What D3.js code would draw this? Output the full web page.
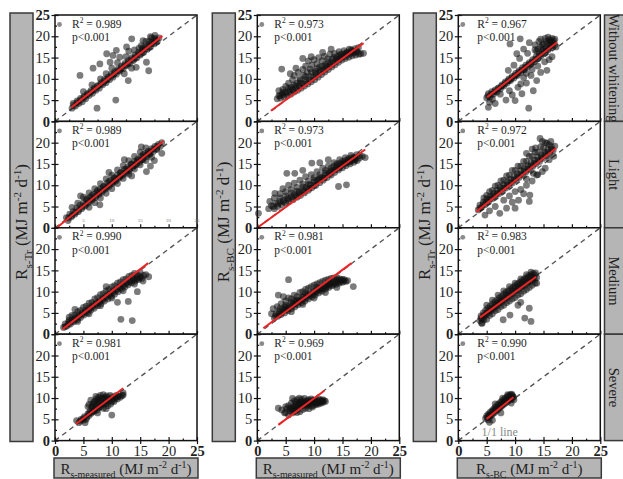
<!DOCTYPE html>
<html lang="en">
  <head>
    <meta charset="utf-8"/>
    <script src="https://d3js.org/d3.v7.min.js"></script>
    <style>
      body { margin: 0; background: #fff; }
      .chart text { font-family: "Liberation Serif", "DejaVu Serif", serif; fill: #1e1e1e; }
      .chart .tick line { stroke: #111; stroke-width: 1.2; }
    </style>
  </head>
  <body>
    <svg class="chart" width="623" height="479"></svg>
  <script>
    // labels
    const rowNames = ["Without whitening", "Light", "Medium", "Severe"];
    const yTitleSubs = ["s-Tr", "s-BC", "s-Tr"];
    const xTitleSubs = ["s-measured", "s-measured", "s-BC"];
    const r2Values = [
      ["0.989", "0.973", "0.967"],
      ["0.989", "0.973", "0.972"],
      ["0.990", "0.981", "0.983"],
      ["0.981", "0.969", "0.990"]
    ];
    const pLabel = "p<0.001";
    const ticks = [0, 5, 10, 15, 20, 25];
    const minorTicks = [2.5, 7.5, 12.5, 17.5, 22.5];

    // fitted lines [x1, y1, x2, y2]
    const fitLines = [
      [[2.9, 3.3, 18.9, 20.1], [2.4, 2.5, 18.7, 18.4], [5.1, 5.7, 17.4, 18.6]],
      [[0.3, 0, 19.1, 20.4], [0, 0, 19, 18.4], [3.2, 3.8, 17.2, 18.7]],
      [[1.35, 1.2, 16.4, 16.7], [1.06, 1.4, 16.6, 16.7], [3.8, 3.9, 13.7, 13.5]],
      [[3.7, 3.9, 12, 12.3], [3.7, 3.7, 11.8, 11.7], [5, 5.1, 9.7, 10.2]]
    ];

    // scatter points
    const wwMeasTr = [[3,3.1],[3.2,4.2],[3.6,3.6],[3.9,4.8],[4.2,4.2],[4.5,5.4],[4.8,4.6],[5.1,5.9],[5.4,5.3],[5.7,6.5],[6,6.1],[6.3,7.2],[6.6,6.6],[6.9,7.9],[7.2,7.3],[7.5,8.4],[7.8,7.8],[8.1,9.1],[8.4,8.6],[8.7,9.8],[9,9.1],[9.3,10.4],[9.6,9.8],[9.9,11.1],[10.2,10.4],[10.5,11.7],[10.8,11.1],[11.1,12.3],[11.4,11.8],[11.7,13],[12,12.4],[12.3,13.6],[12.6,13.1],[12.9,14.3],[13.2,13.6],[13.5,14.9],[13.8,14.3],[14.1,15.6],[14.4,14.9],[14.7,16.2],[15,15.6],[15.3,16.8],[15.6,16.2],[15.9,17.5],[16.2,16.9],[16.5,18.1],[16.8,17.5],[17.1,18.6],[17.4,18.2],[17.7,19.2],[18,18.8],[18.3,19.6],[16,18.8],[17,19.6],[15.2,17.8],[14.8,17.2],[12.2,11.2],[13.5,12.5],[10,12.5],[11,13.8],[12.5,15.2],[14,16.8],[9,11.2],[8,10],[6.5,8.6],[5,7],[4.4,10.8],[7.4,3.1],[10.7,5],[6.7,12.5],[9.1,15.9],[10.8,16.7],[12.6,17.5],[13.5,19.4],[15.5,19],[17.6,20.2],[16.5,11.9],[16.1,13.9],[14.3,12.7],[12.9,9.6],[11.4,15.1],[10.2,15.5],[7.9,13.5],[9.7,13.9],[13,16.5],[16.8,19.9],[3.3,3.8],[3.9,4.4],[4.5,5],[5.1,5.6],[5.7,6.3],[6.3,6.9],[6.9,7.5],[7.5,8.2],[8.1,8.8],[8.7,9.4],[9.3,10],[9.9,10.7],[10.5,11.3],[11.1,11.9],[11.7,12.6],[12.3,13.2],[12.9,13.8],[13.5,14.5],[14.1,15.1],[14.7,15.7],[15.3,16.4],[15.9,17],[16.5,17.6],[17.1,18.3],[17.7,18.9],[15.5,17.3],[16.6,18.8],[17.5,19.5]];
    const wwMeasBc = [[3.5,5.3],[3.8,6],[4.1,5.5],[4.4,6.3],[4.7,5.8],[5,6.6],[5.3,6],[5.6,7],[5.9,6.4],[6.2,7.4],[6.5,6.9],[6.8,7.8],[7.1,7.3],[7.4,8.3],[7.7,7.8],[8,8.8],[8.3,8.3],[8.6,9.3],[8.9,8.8],[9.2,9.8],[9.5,9.3],[9.8,10.4],[10.1,9.8],[10.4,10.9],[10.7,10.4],[11,11.5],[11.3,11],[11.6,12],[11.9,11.6],[12.2,12.6],[12.5,12.2],[12.8,13.2],[13.1,12.8],[13.4,13.7],[13.7,13.3],[14,14.3],[14.3,13.9],[14.6,14.8],[14.9,14.4],[15.2,15.2],[15.5,14.8],[15.8,15.6],[16.1,15.1],[16.4,15.9],[16.7,15.4],[17,16.1],[17.3,15.6],[17.6,16.3],[17.9,15.8],[18.2,15.9],[4.5,7.5],[5,8.2],[5.5,9],[6,8],[6.2,9.8],[6.5,10.8],[7,9],[7.2,11.5],[7.5,10],[8,12.2],[8.2,10.8],[8.5,13],[8.8,11.5],[9,14.2],[9.3,12.3],[9.6,13.2],[10,14.5],[10.2,11.8],[10.5,13.5],[10.8,15],[11,12.8],[11.4,14.2],[11.8,15.3],[12,13.4],[12.4,14.7],[12.8,15.8],[13.2,14.6],[13.6,16],[14,15.2],[14.4,16.4],[14.8,15.8],[15.3,16.6],[15.8,16.3],[16.2,17],[16.7,16.6],[17.2,17.1],[5.8,11.2],[4.3,12.3],[6.8,12.5],[9.5,15.2],[11.5,16.2],[13,17],[8,14.8],[3.8,7.2],[18.7,16],[17.8,17.3],[4,6.1],[4.9,6.9],[5.8,7.5],[6.7,8.3],[7.6,9],[8.5,9.8],[9.4,10.6],[10.3,11.4],[11.2,12.1],[12.1,13],[13,13.8],[13.9,14.7],[14.8,15.3],[15.7,16],[16.6,16.3],[17.5,16.6],[13.5,15],[14.5,15.6],[15.5,16],[16.5,16.8],[12.5,14],[11.5,13],[10.5,12.4],[9.5,11.6],[8.5,10.6],[7.5,9.6],[6.5,8.6],[5.5,7.8],[4.5,6.8]];
    const wwBcTr = [[5,5.5],[5.3,6.5],[5.6,5.8],[5.9,7],[6.2,6.4],[6.5,7.4],[6.8,6.9],[7.1,7.9],[7.4,7.6],[7.7,8.6],[8,8.3],[8.3,9.3],[8.6,9],[8.9,10],[9.2,9.6],[9.5,10.6],[9.8,10.2],[10.1,11.3],[10.4,10.8],[10.7,11.9],[11,11.5],[11.3,12.6],[11.6,12.1],[11.9,13.2],[12.2,12.8],[12.5,13.8],[12.8,13.4],[13.1,14.5],[13.4,14],[13.7,15.2],[14,14.7],[14.3,15.9],[14.6,15.4],[14.9,16.6],[15.2,16.1],[15.5,17.3],[15.8,16.8],[16.1,17.9],[16.4,17.4],[16.7,18.5],[17,18],[14.5,17.5],[15,18.2],[15.5,18.8],[16,19.2],[16.5,19.5],[17,19.3],[14,17],[13.5,18],[14.2,18.8],[15.3,19.5],[16.3,18.6],[17.2,17.5],[5.5,4.5],[6,5.2],[13,12.2],[12,11.3],[12.4,3.1],[10,4.9],[8.4,5],[7.4,6.4],[13.2,7.2],[13.8,9.6],[15.6,12],[10.9,19.4],[9.1,18.2],[10.3,15.9],[9,7.2],[10.5,8],[11.2,6.5],[12,9],[11.5,10.3],[12.8,10.8],[14.5,11.5],[14,13],[15.2,14],[16.5,15.2],[10.8,14.8],[11.5,17],[12.2,16],[9.8,13.2],[8.8,12],[6.5,4.2],[5.3,3.3],[11,8.8],[9.5,6.2],[13.5,16.8],[12.5,18.5],[16,14.5],[5.2,6],[5.8,6.4],[6.4,7],[7,7.7],[7.6,8.3],[8.2,8.9],[8.8,9.6],[9.4,10.2],[10,10.8],[10.6,11.5],[11.2,12.1],[11.8,12.7],[12.4,13.4],[13,14],[13.6,14.6],[14.2,15.3],[14.8,15.9],[15.4,16.5],[16,17.2],[16.6,17.8],[14.8,18],[15.8,18.3],[16.2,18.9],[15,17],[13.8,16.5],[14.5,19.3],[16.8,19],[15.8,19.8]];
    const lightMeasTr = [[2,2.4],[2.3,1.7],[2.6,3.2],[2.9,2.6],[3.2,3.8],[3.5,3.2],[3.8,4.6],[4.1,3.8],[4.4,5.3],[4.7,4.5],[5,5.9],[5.3,5.1],[5.6,6.6],[5.9,5.8],[6.2,7.2],[6.5,6.5],[6.8,7.9],[7.1,7.1],[7.4,8.5],[7.7,7.8],[8,9.2],[8.3,8.4],[8.6,9.8],[8.9,9.1],[9.2,10.5],[9.5,9.7],[9.8,11.1],[10.1,10.4],[10.4,11.8],[10.7,11],[11,12.4],[11.3,11.7],[11.6,13],[11.9,12.3],[12.2,13.7],[12.5,12.9],[12.8,14.3],[13.1,13.5],[13.4,14.9],[13.7,14.2],[14,15.6],[14.3,14.8],[14.6,16.2],[14.9,15.4],[15.2,16.8],[15.5,16],[15.8,17.4],[16.1,16.7],[16.4,18],[16.7,17.3],[17,18.6],[17.3,17.9],[17.6,19.1],[17.9,18.4],[18.2,19.6],[18.5,19.1],[18.8,20],[3,4.8],[4,5.8],[5,7.2],[6,8.2],[7,9.2],[8,10.4],[9,11.5],[10,12.4],[11,13.6],[12,14.6],[13,15.8],[14,16.8],[15,17.8],[16,18.8],[6,4.8],[7,5.9],[8,7],[9,8.1],[10,9.2],[11,10.4],[12,11.6],[13,12.6],[14,13.8],[15,14.8],[16,15.8],[17,16.6],[7.9,5.4],[16.1,13.2],[17.5,15.8],[13.5,12.2],[12.2,16],[15.2,19],[9.5,13],[4.5,7.5],[18.8,17.5],[16.8,14.5],[2.4,2.3],[3,2.9],[3.6,3.6],[4.2,4.2],[4.8,4.9],[5.4,5.5],[6,6.2],[6.6,6.8],[7.2,7.5],[7.8,8.1],[8.4,8.8],[9,9.4],[9.6,10.1],[10.2,10.7],[10.8,11.4],[11.4,12],[12,12.7],[12.6,13.3],[13.2,14],[13.8,14.6],[14.4,15.3],[15,15.9],[15.6,16.6],[16.2,17.2],[16.8,17.9],[17.4,18.5],[18,19.1],[5.5,6.8],[6.5,7.6],[7.5,8.8],[8.5,9.6],[9.5,10.9],[10.5,11.6],[11.5,12.9],[12.5,13.8],[13.5,15],[14.5,15.8],[15.5,17.2],[16.5,17.6]];
    const lightMeasBc = [[2,4.5],[2.5,5.2],[3,4.5],[3.3,5.8],[3.6,5],[4,6.2],[4.3,5.4],[4.6,6.5],[5,5.8],[5.3,7],[5.6,6.2],[6,7.4],[6.3,6.6],[6.6,7.8],[7,7.2],[7.3,8.4],[7.6,7.6],[8,8.9],[8.3,8.2],[8.6,9.5],[9,8.8],[9.3,10.1],[9.6,9.4],[10,10.7],[10.3,10],[10.6,11.2],[11,10.6],[11.3,11.8],[11.6,11.2],[12,12.4],[12.3,11.8],[12.6,13],[13,12.4],[13.3,13.5],[13.6,13],[14,14],[14.3,13.6],[14.6,14.5],[15,14.1],[15.3,15],[15.6,14.6],[16,15.4],[16.3,15],[16.6,15.8],[17,15.4],[17.3,16.2],[17.6,15.8],[18,16.4],[3,7],[3.1,8.1],[4,8],[4.5,9.2],[5.2,12.8],[5,8.5],[5.5,10],[6,9],[6.6,12.8],[6.5,10.5],[7,9.5],[7.5,11.2],[8,10.3],[8.5,12],[9,11],[9.6,15.2],[9.5,12.5],[10,11.8],[10.5,13.2],[11,12.5],[11.5,14],[12,13.5],[12.5,14.5],[13,14],[13.5,15.3],[14,15],[14.5,16],[15,15.6],[15.5,16.5],[16,16.2],[16.5,17],[17,16.6],[17.5,17.2],[18,17],[18.5,16.8],[8,13.5],[11,15.3],[12.5,16],[2.2,6.2],[0.2,3.4],[15.7,10.1],[14.3,9.7],[19,16.5],[2.8,5],[3.7,5.6],[4.6,6.1],[5.5,6.8],[6.4,7.3],[7.3,8],[8.2,8.6],[9.1,9.3],[10,9.9],[10.9,11.3],[11.8,11.7],[12.7,12.6],[13.6,13.6],[14.5,14.1],[15.4,15.2],[16.3,15.5],[17.2,15.9],[4,7],[5,7.5],[6,8.2],[7,8.6],[8,9.6],[9,10.2],[10,11.2],[11,11.8],[12,12.9],[13,13.3],[14,14.6],[15,15],[16,15.9],[17,16.1],[16.5,16.4],[15.5,15.8],[14.5,15.2],[13.5,14.5]];
    const lightBcTr = [[3.5,4.2],[3.8,5.3],[4.1,4.8],[4.4,6],[4.7,5.4],[5,6.8],[5.3,6.1],[5.6,7.4],[5.9,6.8],[6.2,8.1],[6.5,7.4],[6.8,8.8],[7.1,8],[7.4,9.5],[7.7,8.6],[8,10.1],[8.3,9.3],[8.6,10.8],[8.9,9.9],[9.2,11.4],[9.5,10.5],[9.8,12.1],[10.1,11.2],[10.4,12.7],[10.7,11.8],[11,13.4],[11.3,12.4],[11.6,14],[11.9,13.1],[12.2,14.6],[12.5,13.7],[12.8,15.3],[13.1,14.4],[13.4,15.9],[13.7,15],[14,16.6],[14.3,15.6],[14.6,17.2],[14.9,16.3],[15.2,17.8],[15.5,16.9],[15.8,18.4],[16.1,17.5],[16.4,19],[16.7,18.2],[17,19.2],[4.5,7],[5.5,8.5],[6.5,9.8],[7.5,11],[8.5,12.2],[9.5,13.5],[10.5,14.5],[11.5,15.6],[12.5,16.8],[13.5,17.8],[14.5,19],[15.3,20],[14.4,21],[15.6,19.9],[16.3,20.3],[13,18.5],[12,17.5],[12.6,7.7],[12.5,6.2],[10.6,6.5],[10,4.6],[8.5,4.6],[7.3,3.4],[4.7,3],[13.8,12.4],[15.3,14],[9,7.5],[10,8.5],[11,9],[12,10],[13,11],[14,12.5],[11.5,8],[9.5,6],[8,6.5],[6.5,5],[5.5,4],[16,16],[16.8,16.8],[14.8,13.2],[12,11.5],[13.2,12.8],[3.8,4.6],[4.4,5.5],[5,6.1],[5.6,6.8],[6.2,7.4],[6.8,8.1],[7.4,8.7],[8,9.4],[8.6,10],[9.2,10.7],[9.8,11.3],[10.4,12],[11,12.6],[11.6,13.3],[12.2,13.9],[12.8,14.6],[13.4,15.2],[14,15.9],[14.6,16.5],[15.2,17.2],[15.8,17.8],[16.4,18.4],[5,7.6],[6,8.8],[7,10],[8,11.2],[9,12.4],[10,13.5],[11,14.5],[12,15.6],[13,16.8],[14,17.8],[15,18.7],[16,19.5],[14.8,20.3],[13.6,18.8]];
    const mediumMeasTr = [[1.5,1.6],[1.8,2.4],[2.1,1.9],[2.4,2.9],[2.7,2.4],[3,3.4],[3.3,2.9],[3.6,3.9],[3.9,3.4],[4.2,4.5],[4.5,3.9],[4.8,5],[5.1,4.5],[5.4,5.6],[5.7,5],[6,6.1],[6.3,5.6],[6.6,6.7],[6.9,6.1],[7.2,7.3],[7.5,6.7],[7.8,7.8],[8.1,7.2],[8.4,8.4],[8.7,7.8],[9,9],[9.3,8.3],[9.6,9.5],[9.9,8.9],[10.2,10.1],[10.5,9.4],[10.8,10.6],[11.1,10],[11.4,11.2],[11.7,10.6],[12,11.7],[12.3,11.1],[12.6,12.2],[12.9,11.6],[13.2,12.6],[13.5,12.1],[13.8,13],[14.1,12.5],[14.4,13.3],[14.7,12.8],[15,13.6],[15.3,13.1],[15.6,13.8],[3,4.4],[4,5.3],[5,6.3],[6,7.3],[7,8.3],[8,9.3],[9,10.2],[10,11.1],[11,12],[12,12.8],[13,13.6],[14,14.3],[15,14.5],[4,3],[6,4.8],[8,6.7],[10,8.5],[12,10.2],[14,11.8],[15.5,12.5],[16,14],[16.5,13.5],[11.6,3.5],[13.6,3.2],[12.9,7.7],[11,7.5],[14.5,10],[3.5,5.8],[9,11.2],[2.5,4],[1.8,1.8],[2.4,2.4],[3,3],[3.6,3.6],[4.2,4.1],[4.8,4.7],[5.4,5.3],[6,5.8],[6.6,6.4],[7.2,7],[7.8,7.5],[8.4,8.1],[9,8.7],[9.6,9.2],[10.2,9.8],[10.8,10.3],[11.4,10.9],[12,11.4],[12.6,11.9],[13.2,12.3],[13.8,12.8],[14.4,13],[15,13.3],[2.5,3.3],[3.5,4.5],[4.5,5.6],[5.5,6.6],[6.5,7.5],[7.5,8.6],[8.5,9.5],[9.5,10.5],[10.5,11.4],[11.5,12.3],[12.5,13],[13.5,13.8],[14.5,14]];
    const mediumMeasBc = [[3,3.8],[3.3,4.8],[3.6,4.2],[3.9,5.4],[4.2,4.6],[4.5,5.8],[4.8,5],[5.1,6.3],[5.4,5.5],[5.7,6.7],[6,6],[6.3,7.2],[6.6,6.4],[6.9,7.7],[7.2,6.9],[7.5,8.1],[7.8,7.4],[8.1,8.6],[8.4,7.8],[8.7,9.1],[9,8.3],[9.3,9.5],[9.6,8.8],[9.9,10],[10.2,9.2],[10.5,10.4],[10.8,9.7],[11.1,10.8],[11.4,10.1],[11.7,11.2],[12,10.6],[12.3,11.6],[12.6,11],[12.9,11.9],[13.2,11.4],[13.5,12.2],[13.8,11.7],[14.1,12.5],[14.4,12],[14.7,12.7],[15,12.2],[15.3,12.8],[15.6,12.4],[15.9,12.6],[3.5,6.5],[4.2,7.2],[5,7.8],[5.5,8.5],[6,8.3],[6.5,9.2],[7,8.8],[7.5,9.8],[8,10],[8.5,10.5],[9,10.8],[9.5,11.2],[10,11.5],[10.5,11.8],[11,12.1],[11.5,12.4],[12,12.7],[12.5,12.9],[13,13.1],[13.5,13.2],[14,13.3],[3.7,9.2],[4.6,8.8],[5.5,12.8],[2.5,4.8],[2.8,6],[16.9,11.2],[6,5.3],[8,7],[10,8.5],[12,9.8],[14,11],[3.2,4.3],[3.8,4.8],[4.4,5.3],[5,5.8],[5.6,6.2],[6.2,6.7],[6.8,7.1],[7.4,7.6],[8,8.1],[8.6,8.5],[9.2,9],[9.8,9.4],[10.4,9.9],[11,10.3],[11.6,10.7],[12.2,11.1],[12.8,11.5],[13.4,11.8],[14,12.1],[14.6,12.3],[15.2,12.5],[4,6],[5,6.8],[6,7.4],[7,8],[8,8.8],[9,9.3],[10,10],[11,10.7],[12,11.3],[13,12.2],[14,12.7],[15,12.9],[4.8,6.4],[6.5,7.8],[8.5,9.6],[10.5,11],[12.5,12],[14.5,13]];
    const mediumBcTr = [[3.8,3.2],[4,4.3],[4.2,3.6],[4.4,5],[4.6,4.2],[4.8,5.6],[5,4.7],[5.2,6.1],[5.4,5.2],[5.6,6.6],[5.8,5.6],[6,7.1],[6.2,6.1],[6.4,7.6],[6.6,6.5],[6.8,8],[7,7],[7.2,8.5],[7.4,7.4],[7.6,8.9],[7.8,7.8],[8,9.4],[8.2,8.2],[8.4,9.8],[8.6,8.6],[8.8,10.2],[9,9],[9.2,10.6],[9.4,9.4],[9.6,11],[9.8,9.8],[10,11.4],[10.2,10.2],[10.4,11.8],[10.6,10.5],[10.8,12.2],[11,10.9],[11.2,12.6],[11.4,11.3],[11.6,13],[11.8,11.6],[12,13.3],[12.2,12],[12.4,13.7],[12.6,12.3],[12.8,14],[13,12.6],[13.2,14.3],[13.4,12.9],[13.6,14.4],[13.8,13.3],[4.2,2.6],[5,3.5],[6,4.8],[7,5.8],[8,6.8],[9,7.8],[10,8.6],[11,9.5],[12,10.5],[13,11.5],[13.8,12],[5,6.8],[6,8],[7,9.2],[8,10.2],[9,11.2],[10,12],[11,13],[12,14],[12.8,14.6],[4.1,2.6],[9.1,4.5],[7.9,3.4],[11.7,3.8],[12.8,3],[12.5,6.1],[11,7.5],[10.5,6.8],[4,3.8],[4.5,4.4],[5,5],[5.5,5.6],[6,6.2],[6.5,6.8],[7,7.4],[7.5,7.9],[8,8.5],[8.5,9.1],[9,9.6],[9.5,10.2],[10,10.7],[10.5,11.2],[11,11.8],[11.5,12.3],[12,12.8],[12.5,13.3],[13,13.6],[13.5,13.9],[4.5,3.4],[5.5,4.4],[6.5,5.5],[7.5,6.5],[8.5,7.4],[9.5,8.3],[10.5,9.2],[11.5,10.1],[12.5,11],[13.5,12],[13.2,13.2],[12.2,12.4],[11.2,11.5]];
    const severeMeasTr = [[3.8,4.7],[4.2,4.2],[4.6,5],[5,4.8],[5.3,4.2],[5.2,5.6],[5.6,5.5],[5.8,6.3],[6,5.9],[6.2,7],[6.4,6.4],[6.5,7.8],[6.7,8.5],[6.8,6.9],[7,9.2],[7,7.5],[7.2,8.3],[7.3,9.8],[7.4,7.2],[7.6,8.8],[7.7,10.2],[7.8,7.8],[8,9.4],[8,10.6],[8.2,8.4],[8.4,9.9],[8.5,10.8],[8.6,8.6],[8.8,10.2],[9,9.2],[9.1,10.5],[9.3,8.2],[9.5,9.8],[9.7,10.6],[9.8,8.6],[10,9.8],[10.2,10.3],[10.4,9.2],[10.6,10.1],[10.8,10.6],[11,9.8],[11.2,10.5],[11.5,10.2],[11.8,10.6],[12,10.7],[10,6],[6,8.5],[6.3,9.5],[5.8,8],[7.5,6.5],[9,7.5],[8.5,7.6],[12,11.2],[4.5,4.6],[5,5.2],[5.5,5],[6,6.4],[6.5,6.7],[7,7],[7.5,7.8],[8,8],[8.5,8.9],[9,8.7],[9.5,9.3],[10,9.1],[10.5,9.7],[11,10.3],[6.8,9],[7.5,9.5],[8.2,10],[7.2,10.4],[9.2,10.1],[8.8,9.7],[6.5,8],[7.8,9]];
    const severeMeasBc = [[3.7,7.6],[4.3,7.2],[4.8,6.5],[5.2,7.5],[5.5,6],[5.5,8.2],[5.8,7],[6,8.8],[6.2,6.5],[6.3,7.8],[6.5,9.3],[6.7,7.2],[6.8,8.5],[7,6.6],[7,9.6],[7.2,7.8],[7.4,9],[7.5,6.8],[7.7,8.3],[7.8,9.7],[8,7.3],[8.1,8.8],[8.3,9.9],[8.5,7.6],[8.6,9.2],[8.8,8.2],[9,9.6],[9.1,7.5],[9.3,8.7],[9.5,9.8],[9.7,7.9],[9.8,9],[10,8.3],[10.2,9.5],[10.4,8.5],[10.6,9.3],[10.8,8.6],[11,9.5],[11.2,8.8],[11.4,9.3],[11.6,9],[11.8,9.4],[12,9.2],[6,7.5],[6.5,8],[7,8],[8,8.2],[9,8.5],[10,9],[5,8],[6.2,9.9],[7.4,10],[5,6.6],[5.8,7.6],[6.5,6.8],[7,7.3],[7.5,8.7],[8,9],[8.5,8.5],[9,8.9],[9.5,8.2],[10,9.4],[10.5,8.9],[11,9],[11.5,9.6],[6.8,9],[7.8,9.2],[8.8,9.4],[9.8,9.5],[10.8,9.8],[6.2,7.2],[7.3,8.3],[8.3,8.7],[9.3,9.2],[10.3,8.8],[11.3,9.2]];
    const severeBcTr = [[4.8,5.2],[5,5.8],[5.2,4.9],[5.3,6.2],[5.5,5.5],[5.6,6.6],[5.8,5.9],[5.9,7],[6.1,6.3],[6.2,7.4],[6.4,6.6],[6.5,7.8],[6.7,7],[6.8,8.2],[7,7.3],[7.1,8.6],[7.3,7.7],[7.4,9],[7.6,8],[7.7,9.3],[7.9,8.4],[8,9.6],[8.2,8.7],[8.3,10],[8.5,9],[8.6,10.3],[8.8,9.3],[8.9,10.6],[9.1,9.6],[9.2,10.8],[9.4,9.8],[9.5,10.6],[9.7,10.2],[9.8,9.6],[6,4.8],[7.5,6.5],[6.5,8.6],[7.8,10],[5.5,4.3],[9.3,8.8],[5.1,5.4],[5.6,6],[6.1,6.8],[6.6,7.4],[7.1,7.9],[7.6,8.6],[8.1,9.1],[8.6,9.6],[9.1,10.2],[9.6,10.3],[8.4,9.4],[7.4,8.2],[6.4,7.2],[5.4,5.9],[9.4,10.9],[8.7,10.8],[9,10]];

    const panels = [
      [wwMeasTr, wwMeasBc, wwBcTr],
      [lightMeasTr, lightMeasBc, lightBcTr],
      [mediumMeasTr, mediumMeasBc, mediumBcTr],
      [severeMeasTr, severeMeasBc, severeBcTr]
    ];

    const colX = [55, 257.3, 458.3];
    const pw = 142;
    const ph = 106.4;
    const plotTop = 15;
    const boxFill = "#b5b5b5";
    const boxStroke = "#3a3a3a";

    const x = d3.scaleLinear().domain([0, 25]).range([0, pw]);
    const y = d3.scaleLinear().domain([0, 25]).range([ph, 0]);

    let svg = d3.select(".chart");

    // R_sub (MJ m-2 d-1) with tspans
    function unitLabel(sel, sub, size) {
      const parts = [["R", 0], [sub, 1], [" (MJ m", 0], ["-2", -1], [" d", 0], ["-1", -1], [")", 0]];
      let shift = 0;
      parts.forEach(function(p) {
        const target = p[1] === 1 ? size * 0.28 : (p[1] === -1 ? -size * 0.38 : 0);
        sel.append("tspan")
          .attr("dy", target - shift)
          .attr("font-size", p[1] ? size * 0.66 : size)
          .text(p[0]);
        shift = target;
      });
    }

    // grey title boxes, left of each column
    colX.forEach(function(cx, c) {
      const bx = cx - 45;
      svg.append("rect")
        .attr("x", bx).attr("y", 13).attr("width", 23).attr("height", 428.5)
        .attr("fill", boxFill).attr("stroke", boxStroke).attr("stroke-width", 1.5);
      let t = svg.append("text")
        .attr("transform", "translate(" + (bx + 17) + "," + 222 + ") rotate(-90)")
        .attr("text-anchor", "middle");
      unitLabel(t, yTitleSubs[c], 17);

      svg.append("rect")
        .attr("x", cx - 1).attr("y", 458).attr("width", pw + 2).attr("height", 20)
        .attr("fill", boxFill).attr("stroke", boxStroke).attr("stroke-width", 1.5);
      let b = svg.append("text")
        .attr("x", cx + pw / 2).attr("y", 473.5)
        .attr("text-anchor", "middle");
      unitLabel(b, xTitleSubs[c], 15);
    });

    // row name boxes on the right
    rowNames.forEach(function(name, r) {
      const ry = plotTop + r * ph;
      svg.append("rect")
        .attr("x", 604.5).attr("y", ry).attr("width", 25).attr("height", ph)
        .attr("fill", boxFill).attr("stroke", boxStroke).attr("stroke-width", 1.5);
      svg.append("text")
        .attr("transform", "translate(" + 609 + "," + (ry + ph / 2) + ") rotate(90)")
        .attr("text-anchor", "middle")
        .attr("font-size", 14.5)
        .text(name);
    });

    panels.forEach(function(row, r) {
      row.forEach(function(pts, c) {
        let g = svg.append("g")
          .attr("transform", "translate(" + colX[c] + "," + (plotTop + r * ph) + ")");

        g.append("rect")
          .attr("width", pw).attr("height", ph).attr("fill", "#fff");

        // 1:1 line
        g.append("line")
          .attr("x1", x(0)).attr("y1", y(0)).attr("x2", x(25)).attr("y2", y(25))
          .attr("stroke", "#555").attr("stroke-width", 1.4).attr("stroke-dasharray", "5,4");

        g.selectAll("circle.pt")
          .data(pts)
          .enter().append("circle")
            .attr("class", "pt")
            .attr("cx", function(d) { return x(d[0]); })
            .attr("cy", function(d) { return y(d[1]); })
            .attr("r", 3.4)
            .attr("fill", "#111")
            .attr("fill-opacity", 0.55);

        const f = fitLines[r][c];
        g.append("line")
          .attr("x1", x(f[0])).attr("y1", y(f[1])).attr("x2", x(f[2])).attr("y2", y(f[3]))
          .attr("stroke", "#ee2424").attr("stroke-width", 2);

        // legend
        const tx = c === 2 ? 19 : 17;
        g.append("circle")
          .attr("cx", 4.5).attr("cy", 9.5).attr("r", 2.4).attr("fill", "#8a8a8a");
        let rt = g.append("text")
          .attr("x", tx).attr("y", 12.5)
          .attr("font-size", 11.5);
        rt.append("tspan").text("R");
        rt.append("tspan").attr("dy", -4.5).attr("font-size", 7.5).text("2");
        rt.append("tspan").attr("dy", 4.5).text(" = " + r2Values[r][c]);
        g.append("text")
          .attr("x", tx).attr("y", 26)
          .attr("font-size", 11.5)
          .text(pLabel);

        // frame
        g.append("rect")
          .attr("width", pw).attr("height", ph)
          .attr("fill", "none").attr("stroke", "#111").attr("stroke-width", 1.5);

        // y axis
        let ya = g.append("g")
          .call(d3.axisLeft(y).tickValues(ticks).tickSize(3.5).tickPadding(1.5)
            .tickFormat(function(d) { return (d === 25 && r > 0) ? "" : d; }));
        g.append("g")
          .call(d3.axisRight(y).tickValues(ticks).tickSize(3.5).tickFormat(""));
        g.append("g")
          .call(d3.axisRight(y).tickValues(minorTicks).tickSize(2).tickFormat(""));
        ya.selectAll("text")
          .attr("font-size", 14.5)
          .attr("font-weight", function(d) { return (d === 0 || d === 25) ? "bold" : null; });

        // x axis
        let xg = g.append("g").attr("transform", "translate(0," + ph + ")");
        xg.append("g")
          .call(d3.axisTop(x).tickValues(ticks).tickSize(3.5).tickFormat(""));
        xg.append("g")
          .call(d3.axisTop(x).tickValues(minorTicks).tickSize(2).tickFormat(""));
        if (r === 3) {
          let xa = xg.append("g")
            .call(d3.axisBottom(x).tickValues(ticks).tickSize(3.5).tickPadding(2));
          xa.selectAll("text")
            .attr("font-size", 14.5)
            .attr("font-weight", function(d) { return (d === 0 || d === 25) ? "bold" : null; });
        }
        g.selectAll(".domain").remove();

        // stray small tick labels in the light / measured panel
        if (r === 1 && c === 0) {
          g.selectAll("text.tiny")
            .data(ticks.slice(1))
            .enter().append("text")
              .attr("class", "tiny")
              .attr("x", function(d) { return x(d); })
              .attr("y", ph - 6)
              .attr("text-anchor", "middle")
              .attr("font-size", 5)
              .style("fill", "#777")
              .text(function(d) { return d; });
        }

        if (r === 3 && c === 2) {
          g.append("text")
            .attr("x", x(4.1)).attr("y", y(1.1))
            .attr("font-size", 12)
            .style("fill", "#888")
            .text("1/1 line");
        }
      });
    });
  </script>
  </body>
</html>
